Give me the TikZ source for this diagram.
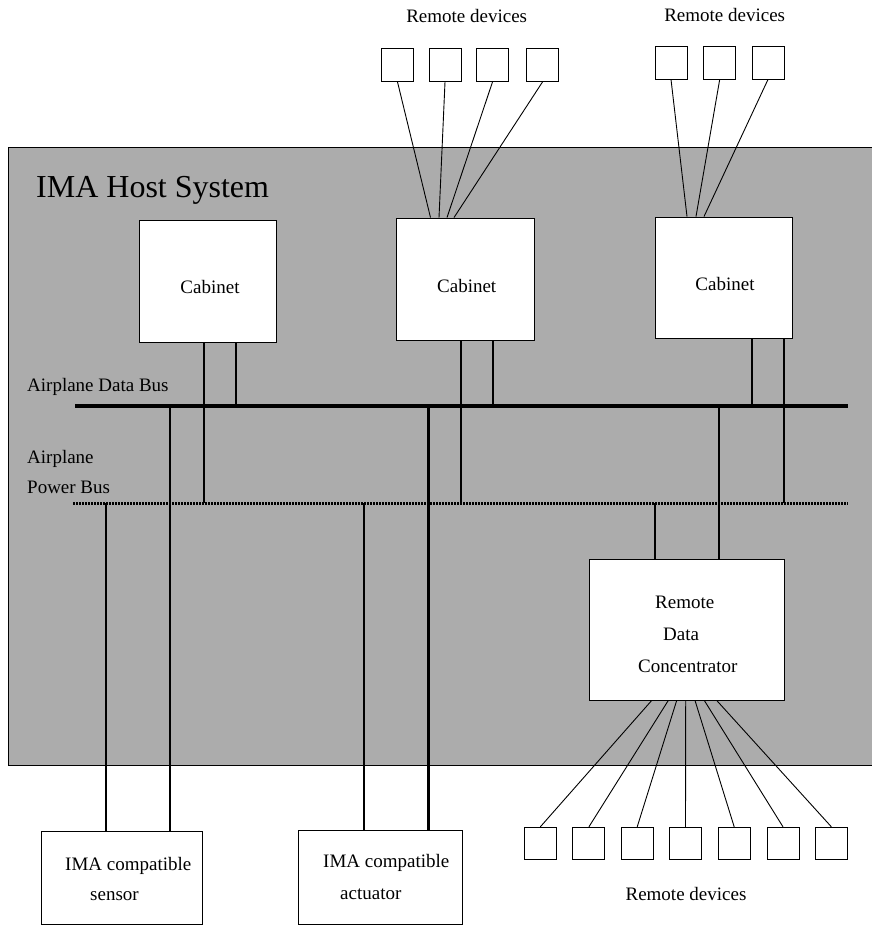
\documentclass[tikz,border=0pt]{standalone}
\usepackage{fontspec}
\setmainfont{Liberation Serif}
\begin{document}
\begin{tikzpicture}[x=1pt,y=-1pt,
  box/.style={draw, line width=0.9pt, fill=white, inner sep=0pt},
  dev/.style={box, minimum width=32pt, minimum height=33pt},
  lbl/.style={font=\fontsize{19}{22}\selectfont, inner sep=0pt, anchor=base west},
  ctr/.style={lbl, anchor=base},
  datal/.style={line width=2.6pt},
  pwrl/.style={line width=1.4pt},
  fan/.style={line width=0.9pt},
  databus/.style={line width=4.2pt},
  powerbus/.style={line width=3pt, dash pattern=on 2pt off 1pt}]
\definecolor{hostgray}{RGB}{172,172,172}
\useasboundingbox (0,0) rectangle (872,926);

% host system area
\node[draw, line width=0.9pt, fill=hostgray, minimum width=864pt, minimum height=618pt, inner sep=0pt]
  (host) at (440,456) {};
\node[lbl, font=\fontsize{32}{36}\selectfont] (hosttitle) at (36,197) {IMA Host System};

% cabinets
\node[box, minimum width=137.7pt, minimum height=122.7pt] (cab1) at (207.9,281.4) {};
\node[box, minimum width=138pt, minimum height=122pt] (cab2) at (465,279) {};
\node[box, minimum width=137.2pt, minimum height=121pt] (cab3) at (724.2,277.5) {};
\node[ctr] (cab1t) at (210,293) {Cabinet};
\node[ctr] (cab2t) at (466.7,292) {Cabinet};
\node[ctr] (cab3t) at (725,290.7) {Cabinet};

% remote data concentrator
\node[box, minimum width=195pt, minimum height=141pt] (rdc) at (686.5,629.5) {};
\node[lbl] (rdct1) at (655,608) {Remote};
\node[lbl] (rdct2) at (663,640) {Data};
\node[lbl] (rdct3) at (638,672) {Concentrator};

% sensor and actuator
\node[box, minimum width=160.3pt, minimum height=92.3pt] (sensor) at (121.9,877.9) {};
\node[lbl] (sent1) at (65,870) {IMA compatible};
\node[lbl] (sent2) at (90,900) {sensor};
\node[box, minimum width=164pt, minimum height=94pt] (act) at (380,877) {};
\node[lbl] (actt1) at (323,867) {IMA compatible};
\node[lbl] (actt2) at (340,899) {actuator};

% buses
\coordinate (dbw) at (75,406);
\coordinate (dbe) at (848,406);
\coordinate (pbw) at (73,503);
\coordinate (pbe) at (848,503);
\node[lbl] (dblbl) at (27,391.7) {Airplane Data Bus};
\node[lbl] (pblbl1) at (27,463) {Airplane};
\node[lbl] (pblbl2) at (27,493) {Power Bus};

% bus taps
\coordinate (c1p) at (204,503);
\coordinate (c1d) at (236,406);
\coordinate (c2p) at (461,503);
\coordinate (c2d) at (493,406);
\coordinate (c3d) at (752,406);
\coordinate (c3p) at (784,503);
\coordinate (sp) at (106,503);
\coordinate (sd) at (170,406);
\coordinate (ap) at (364,503);
\coordinate (ad) at (428.5,406);
\coordinate (rp) at (655,503);
\coordinate (rd) at (719,406);

% cabinet drops
\draw[pwrl] (cab1.south -| c1p) -- (c1p);
\draw[datal] (cab1.south -| c1d) -- (c1d);
\draw[pwrl] (cab2.south -| c2p) -- (c2p);
\draw[datal] (cab2.south -| c2d) -- (c2d);
\draw[datal] (cab3.south -| c3d) -- (c3d);
\draw[pwrl] (cab3.south -| c3p) -- (c3p);

% sensor, actuator and concentrator drops
\draw[pwrl] (sp) -- (sp |- sensor.north);
\draw[datal] (sd) -- (sd |- sensor.north);
\draw[pwrl] (ap) -- (ap |- act.north);
\draw[datal] (ad) -- (ad |- act.north);
\draw[pwrl] (rp) -- (rp |- rdc.north);
\draw[datal] (rd) -- (rd |- rdc.north);

% bus lines
\draw[databus] (dbw) -- (dbe);
\draw[powerbus] (pbw) -- (pbe);

% remote devices above cabinet 2
\node[ctr] (rlbl1) at (466.7,22.7) {Remote devices};
\node[dev] (ta1) at (397.5,65) {};
\node[dev] (ta2) at (445,65) {};
\node[dev] (ta3) at (492.5,65) {};
\node[dev] (ta4) at (542.5,65) {};
\draw[fan] (ta1.south) -- ([xshift=-34.5pt]cab2.north);
\draw[fan] (ta2.south) -- ([xshift=-26pt]cab2.north);
\draw[fan] (ta3.south) -- ([xshift=-18pt]cab2.north);
\draw[fan] (ta4.south) -- ([xshift=-11pt]cab2.north);

% remote devices above cabinet 3
\node[ctr] (rlbl2) at (724.7,21.7) {Remote devices};
\node[dev] (tb1) at (671,62.5) {};
\node[dev] (tb2) at (719.7,62.5) {};
\node[dev] (tb3) at (768,62.5) {};
\draw[fan] (tb1.south) -- ([xshift=-37.2pt]cab3.north);
\draw[fan] (tb2.south) -- ([xshift=-28.2pt]cab3.north);
\draw[fan] (tb3.south) -- ([xshift=-20.2pt]cab3.north);

% remote devices below the concentrator
\node[ctr] (rlbl3) at (686,900) {Remote devices};
\foreach \i/\x/\s in {1/540.3/-34.8, 2/588.9/-18.2, 3/637.2/-9.8, 4/685.5/-0.8,
                      5/734.2/8.5, 6/783/17.8, 7/831.4/30.2} {
  \node[dev, minimum height=32pt] (bd\i) at (\x,843.3) {};
  \draw[fan] ([xshift=\s pt]rdc.south) -- (bd\i.north);
}
\end{tikzpicture}
\end{document}
